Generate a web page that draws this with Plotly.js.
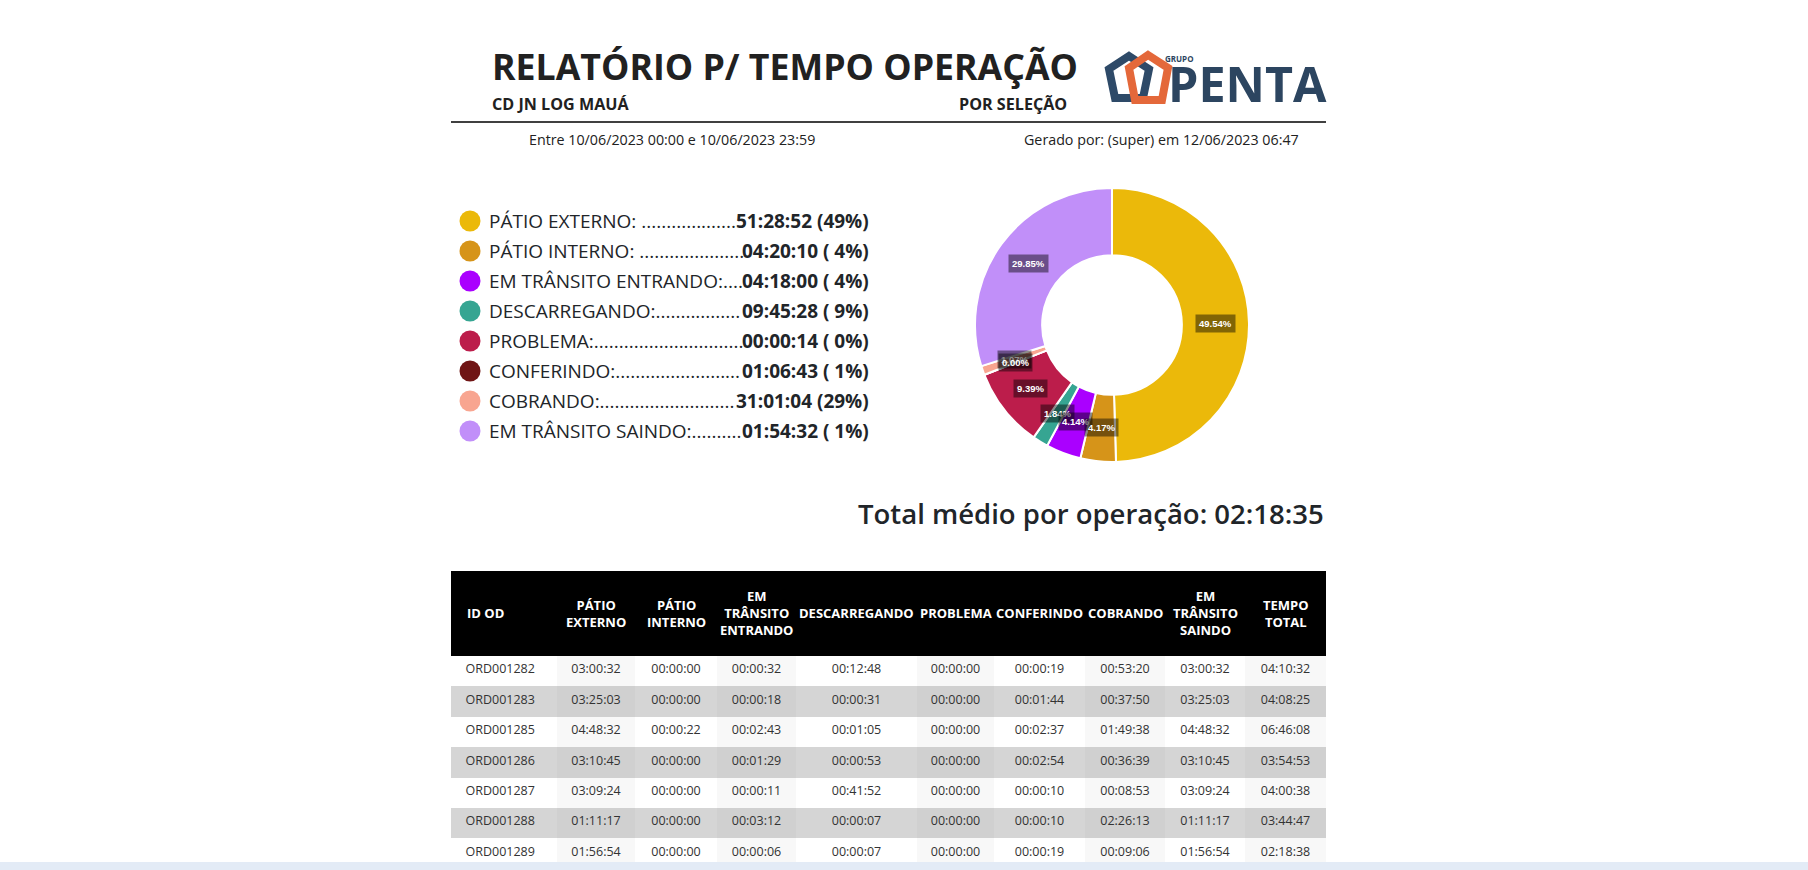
<!DOCTYPE html>
<html><head><meta charset="utf-8">
<script src="https://cdn.plot.ly/plotly-3.0.1.min.js"></script>
<style>html,body{margin:0;padding:0;background:#fff;overflow:hidden}</style>
</head><body><div id="chart" style="width:1808px;height:870px"></div>
<script>
// ---------------- DATA ----------------
const categories = ['PÁTIO EXTERNO','PÁTIO INTERNO','EM TRÂNSITO ENTRANDO','DESCARREGANDO','PROBLEMA','CONFERINDO','COBRANDO','EM TRÂNSITO SAINDO'];
const legendTimes = ['51:28:52','04:20:10','04:18:00','09:45:28','00:00:14','01:06:43','31:01:04','01:54:32'];
const legendPct = [49,4,4,9,0,1,29,1];
const pieValues = [49.54,4.17,4.14,1.84,9.39,0.00,1.07,29.85];
const colors = ['#EBB90A','#D69419','#AA00FF','#36A592','#BC1D4B','#701515','#F8A590','#C18FF9'];

const tableHeaders = ['ID OD','PÁTIO<br>EXTERNO','PÁTIO<br>INTERNO','EM<br>TRÂNSITO<br>ENTRANDO','DESCARREGANDO','PROBLEMA','CONFERINDO','COBRANDO','EM<br>TRÂNSITO<br>SAINDO','TEMPO<br>TOTAL'];
const idOd          = ['ORD001282','ORD001283','ORD001285','ORD001286','ORD001287','ORD001288','ORD001289'];
const patioExterno  = ['03:00:32','03:25:03','04:48:32','03:10:45','03:09:24','01:11:17','01:56:54'];
const patioInterno  = ['00:00:00','00:00:00','00:00:22','00:00:00','00:00:00','00:00:00','00:00:00'];
const transEntrando = ['00:00:32','00:00:18','00:02:43','00:01:29','00:00:11','00:03:12','00:00:06'];
const descarregando = ['00:12:48','00:00:31','00:01:05','00:00:53','00:41:52','00:00:07','00:00:07'];
const problema      = ['00:00:00','00:00:00','00:00:00','00:00:00','00:00:00','00:00:00','00:00:00'];
const conferindo    = ['00:00:19','00:01:44','00:02:37','00:02:54','00:00:10','00:00:10','00:00:19'];
const cobrando      = ['00:53:20','00:37:50','01:49:38','00:36:39','00:08:53','02:26:13','00:09:06'];
const transSaindo   = ['03:00:32','03:25:03','04:48:32','03:10:45','03:09:24','01:11:17','01:56:54'];
const tempoTotal    = ['04:10:32','04:08:25','06:46:08','03:54:53','04:00:38','03:44:47','02:18:38'];

const reportTitle = 'RELATÓRIO P/ TEMPO OPERAÇÃO';
const unitName = 'CD JN LOG MAUÁ';
const modeName = 'POR SELEÇÃO';
const periodText = 'Entre 10/06/2023 00:00 e 10/06/2023 23:59';
const generatedText = 'Gerado por: (super) em 12/06/2023 06:47';
const totalText = 'Total médio por operação: 02:18:35';

// ---------------- LAYOUT CONSTANTS ----------------
const W = 1808, H = 870;
const pieBox = {x0: 975, x1: 1249, y0: 188, y1: 462};
const pieHole = 0.51;
const tableBox = {x0: 451, x1: 1326, y0: 571};
const columnWidths = [106,78,82,79,121,77,91,80,80,81];
const headerHeight = 85, rowHeight = 30.4;
const legendTop = 221, legendStep = 30;

// font detection
const ctx = document.createElement('canvas').getContext('2d');
function hasFont(name){
  const s = 'RELATÓRIO mmmwwwlli 0123';
  for (const base of ['monospace','serif']) {
    ctx.font = '40px ' + base; const a = ctx.measureText(s).width;
    ctx.font = '40px "' + name + '", ' + base; const b = ctx.measureText(s).width;
    if (Math.abs(a-b) > 0.5) return true;
  }
  return false;
}
let NF = '"Open Sans", sans-serif', NS = 0.85;
if (hasFont('Liberation Sans Narrow')) { NF = '"Liberation Sans Narrow", "Open Sans", sans-serif'; NS = 1; }
const SF = '"Open Sans", sans-serif';

const annotations = [];
function A(o){ annotations.push(Object.assign({xref:'x', yref:'y', showarrow:false}, o)); }

// Header
A({x:490, y:66, xanchor:'left', yanchor:'middle', text:'<b>'+reportTitle+'</b>', font:{family:NF, size:42*NS, color:'#212121'}});
A({x:490, y:104, xanchor:'left', yanchor:'middle', text:'<b>'+unitName+'</b>', font:{family:NF, size:19*NS, color:'#212121'}});
A({x:1069, y:104, xanchor:'right', yanchor:'middle', text:'<b>'+modeName+'</b>', font:{family:NF, size:19*NS, color:'#212121'}});
A({x:527, y:139, xanchor:'left', yanchor:'middle', text:periodText, font:{family:NF, size:16.8*NS, color:'#212121'}});
A({x:1301, y:139, xanchor:'right', yanchor:'middle', text:generatedText, font:{family:NF, size:16.8*NS, color:'#212121'}});
// Logo text
A({x:1166, y:83, xanchor:'left', yanchor:'middle', text:'<b>PENTA</b>', font:{family:NF, size:57*NS, color:'#2C4560'}});
A({x:1163, y:58, xanchor:'left', yanchor:'middle', text:'<b>GRUPO</b>', font:{family:NF, size:8, color:'#2C4560'}});

// Legend (circles via scatter, text via annotations)
const legendFont = 19;
ctx.font = legendFont + 'px "Open Sans"';
const dotW = ctx.measureText('.').width;
const labelX = 487, valueRight = 871;
categories.forEach((c,i)=>{
  const y = legendTop + legendStep*i;
  const pct = legendPct[i] < 10 ? '\u00a0' + legendPct[i] : '' + legendPct[i];
  const valText = legendTimes[i] + ' (' + pct + '%)';
  ctx.font = 'bold ' + legendFont + 'px "Open Sans"';
  const vw = ctx.measureText(valText).width;
  ctx.font = legendFont + 'px "Open Sans"';
  let lbl = c + ':' + (i < 2 ? ' ' : '');
  const avail = (valueRight - vw - 2) - labelX - ctx.measureText(lbl).width;
  const n = Math.max(1, Math.floor(avail / dotW));
  lbl += '.'.repeat(n);
  A({x:labelX, y:y, xanchor:'left', yanchor:'middle', text:lbl, font:{family:SF, size:legendFont, color:'#212529'}});
  A({x:valueRight, y:y, xanchor:'right', yanchor:'middle', text:'<b>'+valText+'</b>', font:{family:SF, size:legendFont, color:'#212529'}});
});

// Total
A({x:1326, y:513, xanchor:'right', yanchor:'middle', text:totalText, font:{family:SF, size:27.5, weight:600, color:'#212529'}});

// Pie labels (computed from values)
const total = pieValues.reduce((a,b)=>a+b,0);
const cx = (pieBox.x0+pieBox.x1)/2, cy = (pieBox.y0+pieBox.y1)/2;
const R = Math.min(pieBox.x1-pieBox.x0, pieBox.y1-pieBox.y0)/2;
const rMid = R*(1+pieHole)/2;
let cum = 0;
const pieLabels = pieValues.map(v=>{
  const mid = (cum + v/2)/total; cum += v;
  const th = 2*Math.PI*mid;
  return {x: cx + rMid*Math.sin(th), y: cy - rMid*Math.cos(th), t: (v/total*100).toFixed(2)+'%'};
});
for (let i = pieLabels.length-1; i >= 0; i--) {
  const p = pieLabels[i];
  A({x:p.x, y:p.y, xanchor:'center', yanchor:'middle', text:'<b>'+p.t+'</b>',
     font:{family:'"Liberation Sans", Arial, sans-serif', size:9.5, color:'#ffffff'},
     bgcolor:'rgba(0,0,0,0.45)', borderpad:3});
}

// Table header labels (vertically centred over the black header band)
const colX = [];
{ let x = tableBox.x0; columnWidths.forEach(w=>{ colX.push([x, x+w]); x += w; }); }
tableHeaders.forEach((h,i)=>{
  const left = i === 0;
  A({x: left ? colX[i][0]+14 : (colX[i][0]+colX[i][1])/2, y: tableBox.y0 + 42,
     xanchor: left ? 'left' : 'center', yanchor:'middle', align:'center',
     text:'<b>'+h+'</b>', font:{family:SF, size:13, color:'#ffffff'}});
});

// Table cells
const cols = [idOd.map(s=>'\u00a0\u00a0'+s), patioExterno, patioInterno, transEntrando, descarregando, problema, conferindo, cobrando, transSaindo, tempoTotal];
const fills = cols.map((col,c)=> col.map((_,r)=>{
  if (r % 2 === 0) return c % 2 === 1 ? '#F8F8F8' : '#FFFFFF';
  return c % 2 === 1 ? '#D0D0D0' : '#D5D5D5';
}));

const shapes = [
  {type:'line', xref:'x', yref:'y', x0:451, x1:1326, y0:122, y1:122, line:{color:'#000', width:1.5}},
  // logo icon
  {type:'path', xref:'x', yref:'y', path:'M1129,56 L1149,69 L1143,98 L1115,98 L1109,69 Z', line:{color:'#2E4A68', width:8}, fillcolor:'rgba(0,0,0,0)'},
  {type:'path', xref:'x', yref:'y', path:'M1148,55 L1168,68 L1162,100 L1135,100 L1129,68 Z', line:{color:'#E4683A', width:8}, fillcolor:'rgba(0,0,0,0)'},
  // bottom window band
  {type:'rect', xref:'x', yref:'y', x0:0, x1:W, y0:862, y1:870, line:{width:0}, fillcolor:'#E3EBF6', layer:'above'}
];

const data = [
  {type:'scatter', mode:'markers', x: categories.map(()=>470), y: categories.map((_,i)=>legendTop+legendStep*i),
   marker:{color:colors, size:21, line:{width:0}}, hoverinfo:'skip', showlegend:false},
  {type:'pie', values: pieValues, labels: categories, sort:false, direction:'clockwise', rotation:0,
   hole: pieHole, marker:{colors: colors, line:{color:'#ffffff', width:2}}, textinfo:'none', hoverinfo:'skip',
   showlegend:false, domain:{x:[pieBox.x0/W, pieBox.x1/W], y:[(H-pieBox.y1)/H, (H-pieBox.y0)/H]}},
  {type:'table', columnwidth: columnWidths,
   domain:{x:[tableBox.x0/W, tableBox.x1/W], y:[0, (H-tableBox.y0)/H]},
   header:{values: tableHeaders.map(()=>''), height: headerHeight, fill:{color:'#000000'}, line:{width:0, color:'#000'}},
   cells:{values: cols, height: rowHeight, align: cols.map((_,i)=> i===0 ? 'left':'center'),
          fill:{color: fills}, line:{width:0, color:'rgba(0,0,0,0)'},
          font:{family:SF, size:12.5, color:'#333333'}}}
];

const layout = {
  width: W, height: H, margin:{l:0,r:0,t:0,b:0}, paper_bgcolor:'#ffffff', plot_bgcolor:'rgba(0,0,0,0)',
  showlegend:false,
  xaxis:{range:[0,W], visible:false, fixedrange:true},
  yaxis:{range:[H,0], visible:false, fixedrange:true},
  annotations: annotations, shapes: shapes
};
Plotly.newPlot('chart', data, layout, {staticPlot:true, displayModeBar:false});
</script></body></html>
